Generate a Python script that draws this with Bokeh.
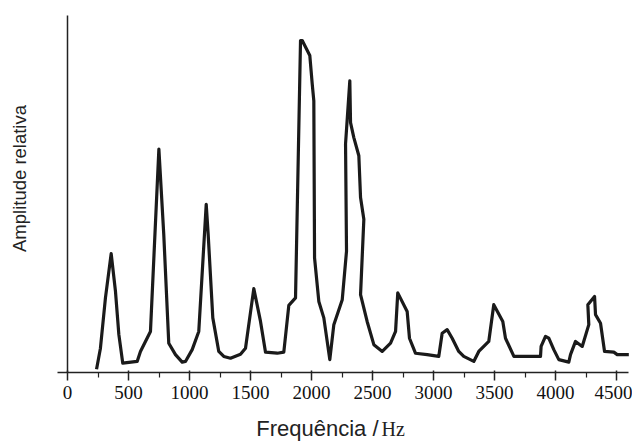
import math
from bokeh.plotting import figure
from bokeh.models import Label, FixedTicker, Range1d, LinearAxis
from bokeh.embed import file_html
from bokeh.resources import INLINE

# Frequency (Hz) and relative amplitude
freq = [238, 270, 311, 358, 393, 421, 453, 571, 598, 680, 749, 789, 830, 885, 940,
        967, 1022, 1076, 1137, 1153, 1191, 1240, 1281, 1336, 1418, 1459, 1527, 1582,
        1623, 1719, 1773, 1814, 1869, 1910, 1924, 1986, 2006, 2019, 2025, 2060, 2101,
        2150, 2183, 2252, 2287, 2279, 2314, 2320, 2347, 2388, 2402, 2429, 2402, 2456,
        2511, 2580, 2648, 2689, 2707, 2784, 2803, 2852, 2948, 3043, 3071, 3112, 3153,
        3207, 3248, 3330, 3371, 3453, 3494, 3568, 3590, 3659, 3795, 3877, 3882, 3918,
        3945, 3986, 4027, 4109, 4123, 4164, 4219, 4273, 4265, 4320, 4328, 4369, 4402,
        4478, 4506, 4601]
amp = [0.9, 6.8, 20.9, 33.3, 22.8, 10.6, 2.6, 3.1, 5.9, 11.5, 62.6, 38.7, 8.2, 5.0, 2.9,
       3.1, 6.4, 11.5, 47.1, 38.7, 15.3, 5.9, 4.5, 4.0, 5.1, 6.8, 23.5, 14.3,
       5.7, 5.4, 5.7, 18.8, 20.9, 93.0, 93.0, 88.8, 80.8, 76.1, 32.1, 19.9, 15.3,
       3.6, 13.4, 20.4, 34.0, 64.0, 81.7, 70.0, 65.8, 60.7, 49.0, 42.9, 21.8, 14.3,
       7.8, 5.9, 8.2, 11.5, 22.3, 17.1, 9.6, 5.4, 5.0, 4.5, 11.0, 12.0, 9.6,
       5.9, 4.5, 3.1, 5.9, 8.7, 19.0, 14.3, 9.6, 4.5, 4.5, 4.5, 7.3, 10.1,
       9.6, 6.4, 3.6, 2.9, 5.0, 8.7, 7.3, 13.4, 19.0, 21.3, 16.2, 13.8, 5.9,
       5.7, 5.0, 5.0]

x_ticks = [0, 500, 1000, 1500, 2000, 2500, 3000, 3500, 4000, 4500]
x_minor = [250, 750, 1250, 1750, 2250, 2750, 3250, 3750, 4250]
x_label = "Frequência /"
x_unit = "Hz"
y_label = "Amplitude relativa"

SERIF = "'Liberation Serif', 'Times New Roman', serif"
SANS = "'Liberation Sans', Arial, sans-serif"
INK = "#222222"

W, H = 632, 441
p = figure(width=W, height=H, output_backend="svg", toolbar_location=None,
           x_range=Range1d(-549.2, 4631.1), y_range=Range1d(-19.33, 104.2),
           x_axis_type=None, y_axis_type=None,
           min_border_left=0, min_border_right=0, min_border_top=0, min_border_bottom=0)
p.outline_line_color = None
p.grid.visible = False
p.background_fill_color = "white"
p.border_fill_color = "white"

xa = LinearAxis(fixed_location=0, bounds=(-82, 4598),
                ticker=FixedTicker(ticks=x_ticks, minor_ticks=x_minor))
xa.axis_line_color = INK
xa.axis_line_width = 1.5
xa.major_tick_line_color = INK
xa.major_tick_line_width = 1.5
xa.major_tick_in = 2
xa.major_tick_out = 8
xa.minor_tick_line_color = INK
xa.minor_tick_line_width = 1.2
xa.minor_tick_in = 0
xa.minor_tick_out = 5
xa.major_label_text_font = SERIF
xa.major_label_text_font_size = "19px"
xa.major_label_text_color = "#111111"
xa.major_label_standoff = 6
p.add_layout(xa, "below")

ya = LinearAxis(fixed_location=0, bounds=(0, 100), ticker=FixedTicker(ticks=[]))
ya.axis_line_color = INK
ya.axis_line_width = 1.5
ya.major_tick_line_color = None
ya.minor_tick_line_color = None
ya.major_label_text_font_size = "0px"
p.add_layout(ya, "left")

p.line(freq, amp, line_color="#1a1a1a", line_width=3.2, line_join="round")

p.add_layout(Label(x=378, y=H - 428, x_units="screen", y_units="screen", text=x_label,
                   text_font=SANS, text_font_size="22px", text_color=INK,
                   text_align="right", text_baseline="middle"))
p.add_layout(Label(x=381, y=H - 428, x_units="screen", y_units="screen", text=x_unit,
                   text_font=SERIF, text_font_size="20px", text_color=INK,
                   text_align="left", text_baseline="middle"))
p.add_layout(Label(x=19, y=H - 178, x_units="screen", y_units="screen", text=y_label,
                   angle=math.pi / 2, text_font=SANS, text_font_size="18.5px",
                   text_color=INK, text_align="center", text_baseline="middle"))

open("out.html", "w").write(file_html(p, INLINE))
